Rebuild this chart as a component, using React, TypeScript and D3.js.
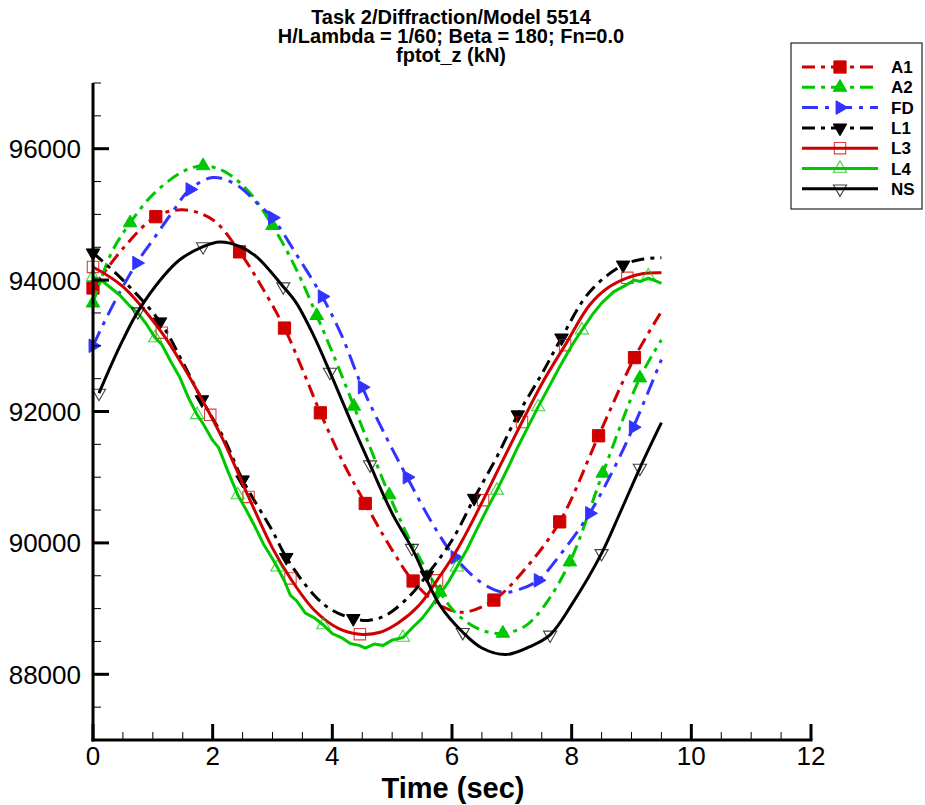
import React from "react";
import * as d3 from "d3";

type P = [number, number];

const TITLE_LINES = [
  "Task 2/Diffraction/Model 5514",
  "H/Lambda = 1/60; Beta = 180; Fn=0.0",
  "fptot_z (kN)",
];
const X_LABEL = "Time (sec)";
const X_TICKS = [0, 2, 4, 6, 8, 10, 12];
const Y_TICKS = [88000, 90000, 92000, 94000, 96000];
const X_DOMAIN: P = [0, 12];
const Y_DOMAIN: P = [87000, 97000];

const A1: P[] = [[0,93880],[0.5,94480],[1.05,94965],[1.5,95070],[2.0,94920],[2.45,94430],[2.8,93930],[3.2,93270],[3.5,92640],[3.8,91980],[4.2,91190],[4.55,90600],[5.0,89890],[5.35,89420],[5.8,89050],[6.2,88945],[6.7,89130],[7.2,89580],[7.8,90320],[8.45,91630],[9.05,92820],[9.5,93520]];
const A1_MARKS: P[] = [[0,93880],[1.05,94965],[2.45,94430],[3.2,93270],[3.8,91980],[4.55,90600],[5.35,89420],[6.7,89130],[7.8,90320],[8.45,91630],[9.05,92820]];

const A2: P[] = [[0,93650],[0.3,94400],[0.62,94870],[1.0,95300],[1.5,95650],[1.84,95740],[2.2,95650],[2.6,95350],[3.0,94830],[3.4,94160],[3.74,93460],[4.05,92790],[4.36,92080],[4.65,91410],[4.95,90730],[5.3,90040],[5.8,89250],[6.1,88900],[6.5,88670],[6.85,88625],[7.2,88720],[7.5,88990],[7.97,89710],[8.52,91060],[9.14,92510],[9.5,93090]];
const A2_MARKS: P[] = [[0,93650],[0.62,94870],[1.84,95740],[3.0,94830],[3.74,93460],[4.36,92080],[4.95,90730],[5.8,89250],[6.85,88625],[7.97,89710],[8.52,91060],[9.14,92510]];

const FD: P[] = [[0,93000],[0.35,93650],[0.73,94260],[1.0,94610],[1.3,95000],[1.62,95380],[2.0,95560],[2.4,95450],[2.8,95120],[3.0,94950],[3.4,94390],[3.83,93750],[4.15,93170],[4.5,92370],[4.9,91610],[5.25,91000],[5.65,90330],[6.05,89780],[6.5,89390],[6.85,89250],[7.15,89300],[7.44,89430],[7.8,89810],[8.3,90450],[8.7,91120],[9.03,91760],[9.5,92790]];
const FD_MARKS: P[] = [[0,93000],[0.73,94260],[1.62,95380],[3.0,94950],[3.83,93750],[4.5,92370],[5.25,91000],[6.05,89780],[7.44,89430],[8.3,90450],[9.03,91760]];

const L1: P[] = [[0,94415],[0.5,94000],[1.12,93365],[1.5,92750],[1.82,92180],[2.2,91570],[2.5,90960],[3.0,90180],[3.23,89780],[3.7,89200],[4.0,88975],[4.35,88850],[4.6,88820],[4.9,88900],[5.3,89200],[5.58,89510],[6.0,90040],[6.37,90680],[6.75,91310],[7.1,91950],[7.5,92570],[7.83,93120],[8.3,93820],[8.86,94230],[9.2,94320],[9.5,94340]];
const L1_MARKS: P[] = [[0,94415],[1.12,93365],[1.82,92180],[2.5,90960],[3.23,89780],[4.35,88850],[5.58,89510],[6.37,90680],[7.1,91950],[7.83,93120],[8.86,94230]];

const L3: P[] = [[0,94200],[0.5,93900],[1.15,93200],[1.5,92700],[1.96,91950],[2.2,91520],[2.6,90700],[3.0,89920],[3.3,89460],[3.7,88975],[4.1,88700],[4.46,88610],[4.8,88640],[5.1,88780],[5.45,89050],[5.75,89430],[6.1,89920],[6.52,90650],[6.85,91260],[7.17,91840],[7.5,92420],[7.89,93010],[8.3,93620],[8.6,93880],[8.93,94035],[9.2,94100],[9.5,94110]];
const L3_MARKS: P[] = [[0,94200],[1.15,93200],[1.96,91950],[2.6,90700],[3.3,89460],[4.46,88610],[5.75,89430],[6.52,90650],[7.17,91840],[7.89,93010],[8.93,94035]];

const L4: P[] = [[0,94050],[0.15,93990],[0.3,93880],[0.45,93770],[0.6,93620],[0.75,93500],[0.9,93320],[1.04,93120],[1.15,93020],[1.3,92760],[1.45,92520],[1.6,92200],[1.74,91950],[1.85,91800],[2.0,91560],[2.1,91450],[2.25,91100],[2.42,90730],[2.55,90520],[2.7,90260],[2.85,89980],[3.0,89760],[3.08,89630],[3.2,89420],[3.3,89200],[3.4,89120],[3.55,88930],[3.7,88860],[3.85,88750],[4.0,88620],[4.15,88560],[4.3,88470],[4.45,88440],[4.55,88400],[4.7,88460],[4.85,88440],[5.0,88520],[5.18,88560],[5.35,88720],[5.5,88850],[5.65,89030],[5.8,89220],[5.95,89420],[6.08,89630],[6.25,89900],[6.4,90180],[6.6,90540],[6.75,90800],[6.95,91170],[7.1,91460],[7.3,91820],[7.44,92070],[7.6,92340],[7.8,92680],[8.0,93000],[8.17,93240],[8.35,93480],[8.5,93650],[8.7,93820],[8.9,93920],[9.05,94000],[9.15,93980],[9.28,94030],[9.4,93990],[9.5,93950]];
const L4_MARKS: P[] = [[0,94050],[1.04,93120],[1.74,91950],[2.42,90730],[3.08,89630],[3.85,88750],[5.18,88560],[6.08,89630],[6.75,90800],[7.44,92070],[8.17,93240],[9.28,94060]];

const NS: P[] = [[0.1,92280],[0.3,92700],[0.5,93090],[0.75,93520],[1.17,94050],[1.45,94310],[1.84,94510],[2.12,94580],[2.46,94510],[2.74,94350],[3.18,93900],[3.4,93650],[3.68,93170],[3.96,92600],[4.3,91870],[4.63,91190],[5.0,90450],[5.33,89920],[5.8,89050],[6.18,88640],[6.5,88400],[6.9,88300],[7.3,88420],[7.64,88600],[8.0,89060],[8.5,89840],[8.8,90440],[9.14,91140],[9.5,91830]];
const NS_MARKS: P[] = [[0.1,92280],[0.75,93520],[1.84,94510],[3.18,93900],[3.96,92600],[4.63,91190],[5.33,89920],[6.18,88640],[7.64,88600],[8.5,89840],[9.14,91140]];

const SERIES_NAMES = ["A1", "A2", "FD", "L1", "L3", "L4", "NS"];
const SERIES_DATA: P[][] = [A1, A2, FD, L1, L3, L4, NS];
const SERIES_MARKS: P[][] = [A1_MARKS, A2_MARKS, FD_MARKS, L1_MARKS, L3_MARKS, L4_MARKS, NS_MARKS];

const RED = "#d00000";
const GREEN = "#00c800";
const BLUE = "#3333ff";
const BLACK = "#000000";

type Style = { color: string; dash?: string; shape: "square" | "triUp" | "triRight" | "triDown"; filled: boolean; jagged?: boolean };
const STYLES: Style[] = [
  { color: RED, dash: "13,6,4,6", shape: "square", filled: true },
  { color: GREEN, dash: "13,6,4,6", shape: "triUp", filled: true },
  { color: BLUE, dash: "16,7,4,7", shape: "triRight", filled: true },
  { color: BLACK, dash: "13,6,4,6", shape: "triDown", filled: true },
  { color: RED, shape: "square", filled: false },
  { color: GREEN, shape: "triUp", filled: false, jagged: true },
  { color: BLACK, shape: "triDown", filled: false },
];

const FONT = "'Liberation Sans', Arial, Helvetica, sans-serif";

function Marker({ cx, cy, st }: { cx: number; cy: number; st: Style }) {
  const sq = d3.symbol().type(d3.symbolSquare).size(st.filled ? 150 : 130)();
  const tri = d3.symbol().type(d3.symbolTriangle).size(st.filled ? 80 : 75)();
  const d = st.shape === "square" ? sq : tri;
  const rot = st.shape === "triRight" ? 90 : st.shape === "triDown" ? 180 : 0;
  return (
    <path
      d={d || ""}
      transform={`translate(${cx},${cy}) rotate(${rot})`}
      fill={st.filled ? st.color : "none"}
      stroke={st.color}
      strokeWidth={st.filled ? 1 : 1.1}
      strokeOpacity={st.filled ? 1 : 0.75}
    />
  );
}

export default function App() {
  const W = 925, H = 805;
  const x = d3.scaleLinear().domain(X_DOMAIN).range([93, 811]);
  const y = d3.scaleLinear().domain(Y_DOMAIN).range([740, 83]);
  const smooth = d3.line<P>().x((d) => x(d[0])).y((d) => y(d[1])).curve(d3.curveCatmullRom.alpha(0.5));
  const straight = d3.line<P>().x((d) => x(d[0])).y((d) => y(d[1]));

  const xMinor = d3.range(0, 12.001, 0.5).filter((v) => !X_TICKS.includes(v));
  const yMinor = d3.range(87000, 97001, 500).filter((v) => !Y_TICKS.includes(v));
  const x0 = x(0), yB = y(87000), yT = y(97000);

  const legX = 791, legY = 43, legW = 131, legH = 166;

  return (
    <svg width={W} height={H} style={{ position: "absolute", left: 0, top: 0, background: "#fff" }} fontFamily={FONT}>
      <rect x={0} y={0} width={W} height={H} fill="#fff" />
      {TITLE_LINES.map((t, i) => (
        <text key={t} x={451} y={24 + i * 19} textAnchor="middle" fontSize={20} fontWeight="bold">{t}</text>
      ))}

      {SERIES_DATA.map((data, i) => {
        const st = STYLES[i];
        return (
          <g key={SERIES_NAMES[i]}>
            <path d={(st.jagged ? straight : smooth)(data) || ""} fill="none" stroke={st.color} strokeWidth={3} strokeDasharray={st.dash} strokeLinejoin="round" />
            {SERIES_MARKS[i].map((m, j) => (
              <Marker key={j} cx={x(m[0])} cy={y(m[1])} st={st} />
            ))}
          </g>
        );
      })}

      <line x1={x0} x2={x0} y1={yT} y2={yB + 1.5} stroke="#000" strokeWidth={3} />
      <line x1={x0 - 1.5} x2={x(12) + 1.5} y1={yB} y2={yB} stroke="#000" strokeWidth={3} />
      {Y_TICKS.map((v) => (
        <g key={v}>
          <line x1={x0} x2={x0 + 16} y1={y(v)} y2={y(v)} stroke="#000" strokeWidth={3} />
          <text x={81} y={y(v) + 9.5} textAnchor="end" fontSize={26}>{v}</text>
        </g>
      ))}
      {yMinor.map((v) => (
        <line key={v} x1={x0} x2={x0 + 8} y1={y(v)} y2={y(v)} stroke="#000" strokeWidth={1} />
      ))}
      {X_TICKS.map((v) => (
        <g key={v}>
          <line x1={x(v)} x2={x(v)} y1={yB} y2={yB - 16} stroke="#000" strokeWidth={3} />
          <text x={x(v)} y={765} textAnchor="middle" fontSize={26}>{v}</text>
        </g>
      ))}
      {xMinor.map((v) => (
        <line key={v} x1={x(v)} x2={x(v)} y1={yB} y2={yB - 8} stroke="#000" strokeWidth={1} />
      ))}
      <text x={453} y={798} textAnchor="middle" fontSize={29} fontWeight="bold">{X_LABEL}</text>

      <rect x={legX} y={legY} width={legW} height={legH} fill="#fff" stroke="#222" strokeWidth={1.2} />
      {SERIES_NAMES.map((name, i) => {
        const st = STYLES[i];
        const ly = legY + 24 + i * 20.3;
        return (
          <g key={name}>
            <line x1={802} x2={878} y1={ly} y2={ly} stroke={st.color} strokeWidth={3} strokeDasharray={st.dash} />
            <Marker cx={840} cy={ly} st={st} />
            <text x={891} y={ly + 6} fontSize={17} fontWeight="bold">{name}</text>
          </g>
        );
      })}
    </svg>
  );
}
